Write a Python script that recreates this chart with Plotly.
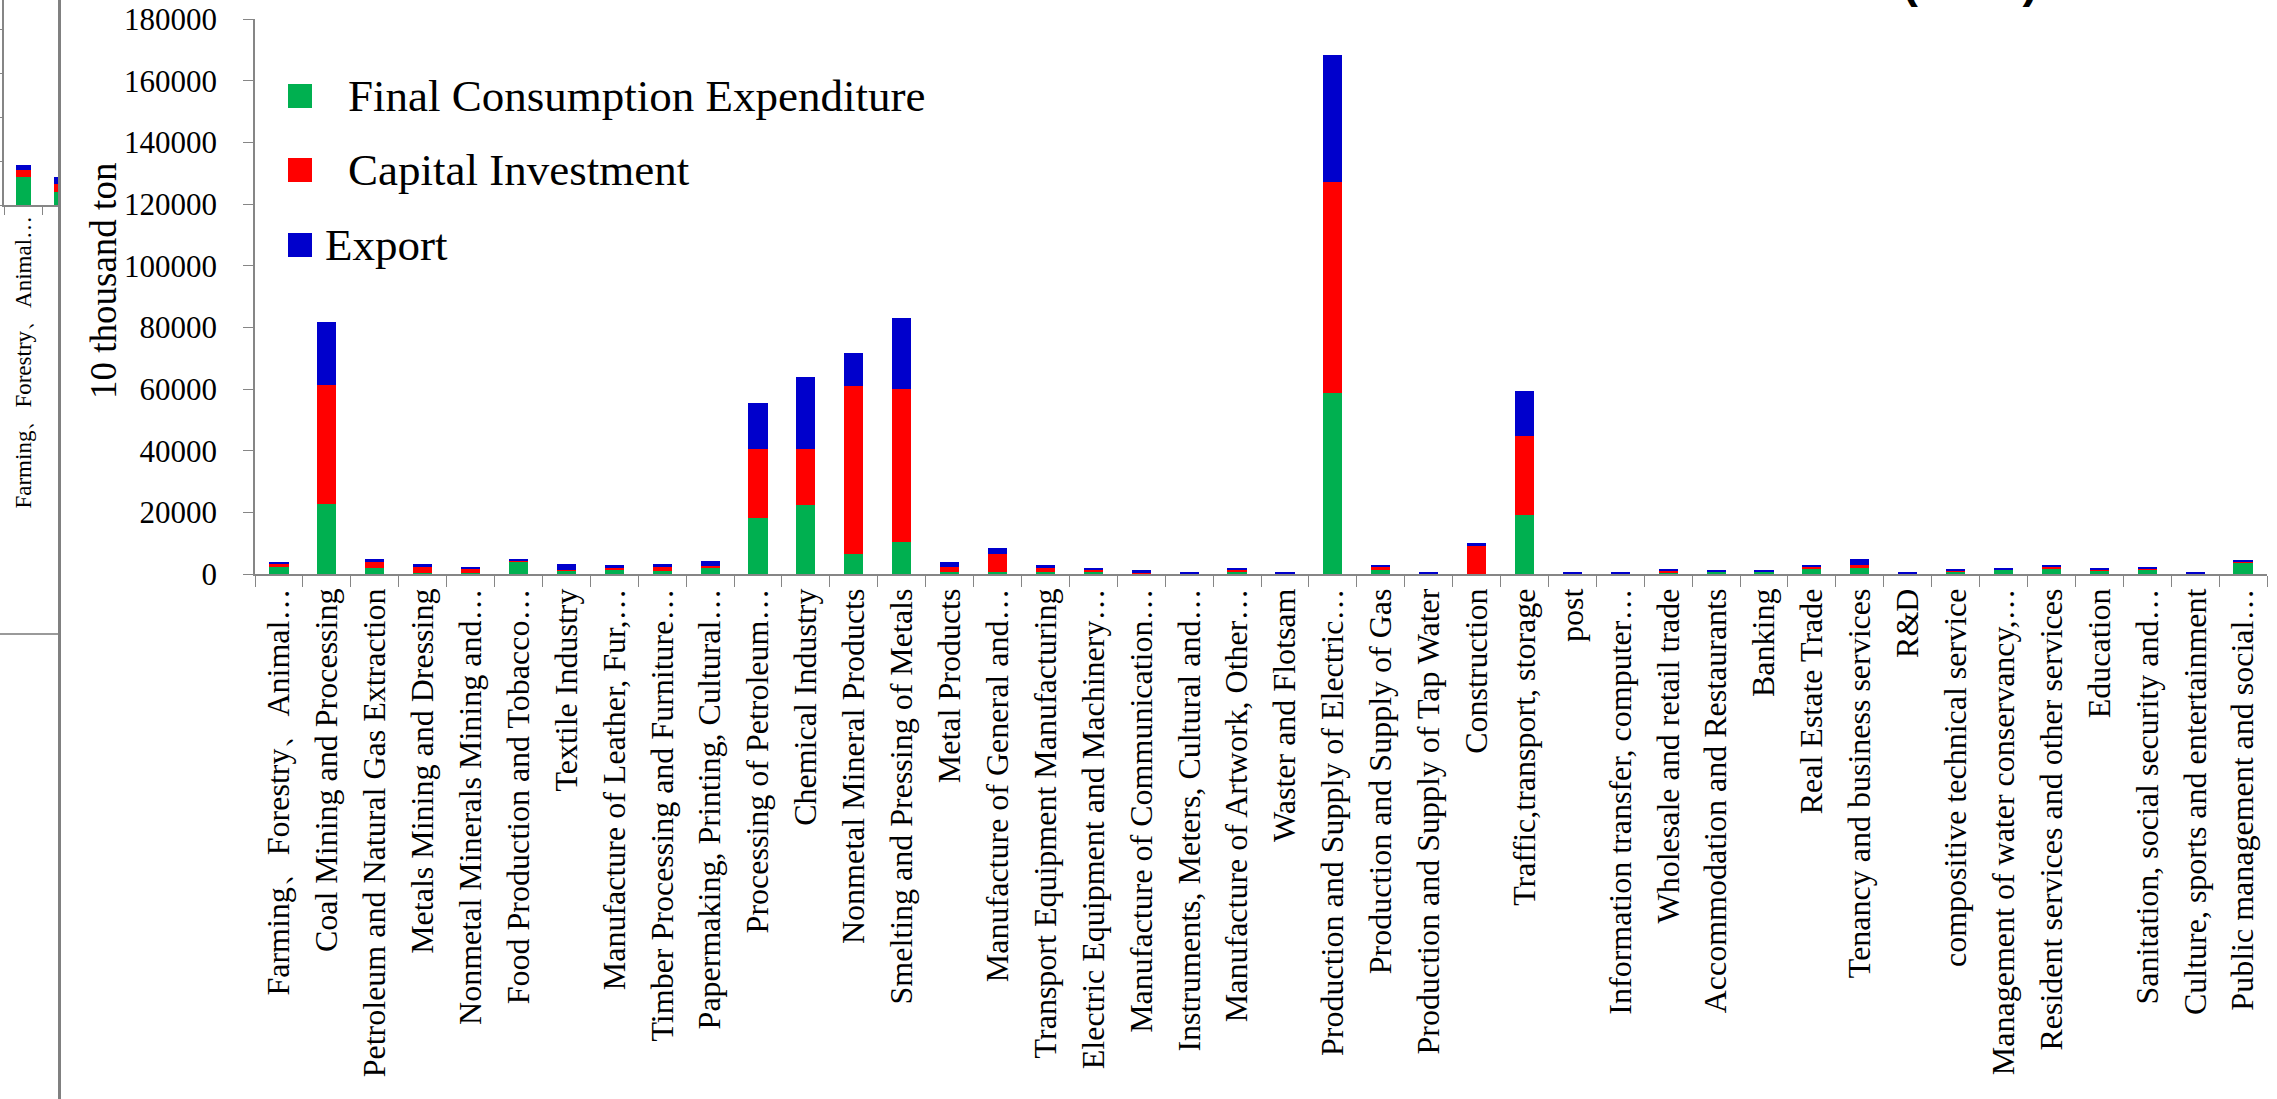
import plotly.graph_objects as go

W, H = 2277, 1099

# Sectors on the category axis
sectors = [
    "Farming、Forestry、Animal…",
    "Coal Mining and Processing",
    "Petroleum and Natural Gas Extraction",
    "Metals Mining and Dressing",
    "Nonmetal Minerals Mining and…",
    "Food Production and Tobacco…",
    "Textile Industry",
    "Manufacture of Leather, Fur,…",
    "Timber Processing and Furniture…",
    "Papermaking, Printing, Cultural…",
    "Processing of Petroleum…",
    "Chemical Industry",
    "Nonmetal Mineral Products",
    "Smelting and Pressing of Metals",
    "Metal Products",
    "Manufacture of General and…",
    "Transport Equipment Manufacturing",
    "Electric Equipment and Machinery…",
    "Manufacture of Communication…",
    "Instruments, Meters, Cultural and…",
    "Manufacture of Artwork, Other…",
    "Waster and Flotsam",
    "Production and Supply of Electric…",
    "Production and Supply of Gas",
    "Production and Supply of Tap Water",
    "Construction",
    "Traffic,transport, storage",
    "post",
    "Information transfer, computer…",
    "Wholesale and retail trade",
    "Accommodation and Restaurants",
    "Banking",
    "Real Estate Trade",
    "Tenancy and business services",
    "R&D",
    "compositive technical service",
    "Management of water conservancy,…",
    "Resident services and other services",
    "Education",
    "Sanitation, social security and…",
    "Culture, sports and entertainment",
    "Public management and social…",
]

# Emissions by final demand category (10 thousand ton)
final_consumption = [
    2300, 22800, 1800, 300, 300, 3800, 1100, 1400, 850, 1850,
    18100, 22400, 6400, 10500, 750, 750, 750, 550, 200, 100,
    950, 100, 58700, 1400, 100, 100, 19100, 100, 100, 450,
    750, 750, 1850, 1850, 100, 750, 1300, 1850, 1200, 1600,
    100, 3800,
]
capital_investment = [
    1000, 38500, 2000, 1950, 1400, 650, 300, 550, 1400, 850,
    22500, 18000, 54500, 49500, 1500, 5600, 1500, 750, 200, 100,
    550, 50, 68400, 870, 50, 9300, 25750, 50, 100, 550,
    100, 100, 450, 950, 100, 450, 100, 450, 100, 100,
    50, 100,
]
export = [
    600, 20300, 1000, 950, 650, 450, 1850, 850, 950, 1600,
    15000, 23500, 10900, 23000, 1600, 2150, 550, 550, 950, 450,
    450, 500, 41100, 330, 450, 550, 14400, 450, 450, 400,
    550, 550, 450, 2050, 450, 450, 450, 450, 550, 550,
    450, 550,
]

# Neighbouring small chart on the left edge
side_sectors = ["Farming、Forestry、Animal…", "Coal Mining and Processing"]
side_final = [3180, 1480]
side_capital = [800, 910]
side_export = [570, 740]

series_names = ["Final Consumption Expenditure", "Capital Investment", "Export"]
colors = ["#00B050", "#FF0000", "#0000CC"]

SERIF = "Liberation Serif, Times New Roman, serif"
AXIS_GRAY = "#868686"


def px(x):
    return x / W


def py(y):
    return 1 - y / H


fig = go.Figure()

for vals, name, col in zip([final_consumption, capital_investment, export], series_names, colors):
    fig.add_trace(go.Bar(x=sectors, y=vals, name=name, marker=dict(color=col, line=dict(width=0)),
                         showlegend=False, xaxis="x", yaxis="y"))

for vals, col in zip([side_final, side_capital, side_export], colors):
    fig.add_trace(go.Bar(x=side_sectors, y=vals, marker=dict(color=col, line=dict(width=0)),
                         showlegend=False, xaxis="x2", yaxis="y2"))

fig.update_layout(
    width=W, height=H,
    margin=dict(l=0, r=0, t=0, b=0, autoexpand=False),
    paper_bgcolor="white", plot_bgcolor="white",
    barmode="stack", bargap=0.6,
    xaxis=dict(
        domain=[px(255), px(2267)], anchor="y", automargin=False,
        type="category", range=[-0.5, len(sectors) - 0.5],
        showline=True, linecolor=AXIS_GRAY, linewidth=1.5,
        ticks="outside", tickson="boundaries", ticklen=11, tickcolor=AXIS_GRAY,
        tickangle=-90, tickfont=dict(family=SERIF, size=32, color="black"),
        showgrid=False,
    ),
    yaxis=dict(
        domain=[py(574), py(19)], anchor="x", automargin=False,
        range=[0, 180000], dtick=20000, tickformat="d",
        showline=True, linecolor=AXIS_GRAY, linewidth=1.5,
        ticks="outside", ticklen=10, tickcolor=AXIS_GRAY,
        tickfont=dict(family=SERIF, size=31, color="black"),
        ticklabelstandoff=20,
        showgrid=False, zeroline=False,
    ),
    xaxis2=dict(
        domain=[px(4), px(58)], anchor="y2", automargin=False,
        type="category", range=[-0.5, 0.895],
        showline=True, linecolor=AXIS_GRAY, linewidth=1.5,
        ticks="outside", tickson="boundaries", ticklen=8, tickcolor=AXIS_GRAY,
        tickangle=-90, tickfont=dict(family=SERIF, size=23, color="black"),
        showgrid=False,
    ),
    yaxis2=dict(
        domain=[py(205), 1], anchor="x2", automargin=False,
        range=[0, 205 / 44 * 5000], dtick=5000,
        showline=True, linecolor=AXIS_GRAY, linewidth=1.5,
        ticks="outside", ticklen=6, tickcolor=AXIS_GRAY,
        showticklabels=False, showgrid=False, zeroline=False,
    ),
)

shapes = [
    # frame of the small chart and the divider
    dict(type="line", xref="paper", yref="paper", x0=0, x1=px(58), y0=py(634), y1=py(634),
         line=dict(color="#9A9A9A", width=2)),
    dict(type="line", xref="paper", yref="paper", x0=px(59.5), x1=px(59.5), y0=0, y1=1,
         line=dict(color="#808080", width=3)),
]

# Legend drawn as large swatches with labels
legend_rows = [(96, 346), (170, 346), (245, 323)]
annotations = []
for (yc, tx), name, col in zip(legend_rows, series_names, colors):
    shapes.append(dict(type="rect", xref="paper", yref="paper",
                       x0=px(288), x1=px(312), y0=py(yc + 12), y1=py(yc - 12),
                       fillcolor=col, line=dict(width=0)))
    annotations.append(dict(xref="paper", yref="paper", x=px(tx), y=py(yc), xanchor="left",
                            yanchor="middle", text=name, showarrow=False,
                            font=dict(family=SERIF, size=45, color="black")))

annotations.append(dict(xref="paper", yref="paper", x=px(103), y=py(281), text="10 thousand ton",
                        textangle=-90, showarrow=False, xanchor="center", yanchor="middle",
                        font=dict(family=SERIF, size=37, color="black")))

# Chart title, running off the top edge of the page
annotations.append(dict(xref="paper", yref="paper", x=px(2040), y=py(9), xanchor="right",
                        yanchor="bottom", showarrow=False,
                        text="<b>Embodied Carbon Emissions of Final Demand in Each Sector of China (2010)</b>",
                        font=dict(family="Liberation Sans, Arial, sans-serif", size=47, color="black")))

fig.update_layout(shapes=shapes, annotations=annotations)

fig.write_html("out.html")
